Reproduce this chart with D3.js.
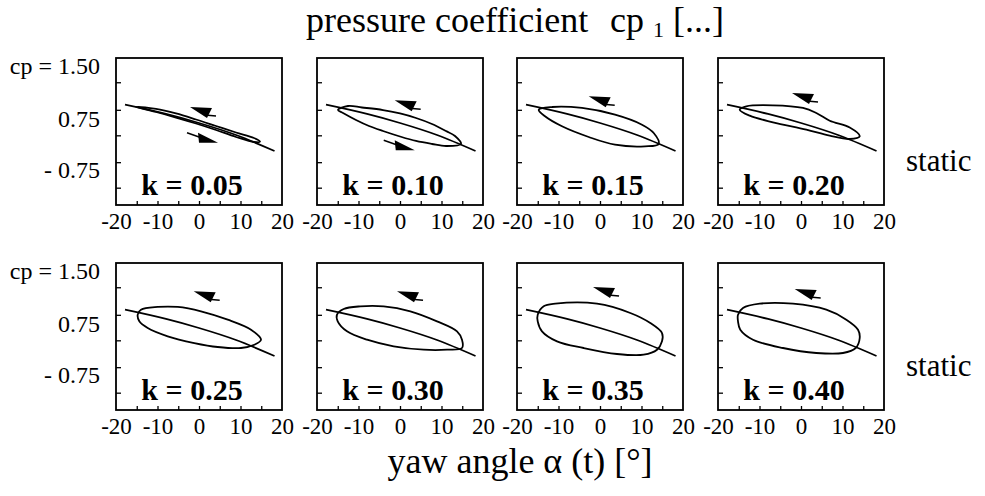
<!DOCTYPE html>
<html><head><meta charset="utf-8">
<script src="https://cdn.jsdelivr.net/npm/d3@7"></script>
<style>body{margin:0;background:#fff}svg{display:block}</style>
</head><body>
<svg id="chart" width="985" height="496"></svg>
<script>
// ---------- data ----------
const kLabels = ["k = 0.05","k = 0.10","k = 0.15","k = 0.20","k = 0.25","k = 0.30","k = 0.35","k = 0.40"];
const xTickValues = [-20,-10,0,10,20];
const xMinorTicks = [-15,-10,-5,0,5,10,15];
const yTickValues = [1.5,0.75,-0.75];
const yTickLabels = ["cp = 1.50","0.75","- 0.75"];
const yMinorTicks = [1.27,0.88,0.27,-0.52,-1.27];
const rowLabel = "static";
const titleParts = ["pressure coefficient","cp","1","[...]"];
const xTitle = "yaw angle \u03B1 (t) [\u00B0]";

// static characteristic (yaw angle deg, cp)
const staticCurve = [[-17.83,0.952],[-7.95,0.821],[0,0.632],[8.92,0.279],[18.2,-0.191]];

// hysteresis loops (closed, upper branch left->right then lower branch back)
const loop005 = [[-15.18,0.920],[-10.36,0.892],[-5.54,0.828],[-0.72,0.735],[4.10,0.544],[8.92,0.353],[13.25,0.191],[14.70,0.088],[13.25,0.074],[8.92,0.221],[4.10,0.426],[-0.72,0.618],[-5.54,0.771],[-10.36,0.849]];
const loop010 = [[-14.94,0.877],[-12.53,0.934],[-9.16,0.913],[-4.10,0.877],[0,0.828],[3.86,0.764],[7.71,0.603],[11.08,0.397],[13.25,0.250],[14.70,0.015],[11.08,-0.044],[7.71,0.015],[3.86,0.103],[0,0.235],[-4.10,0.397],[-7.47,0.544],[-10.60,0.721],[-13.73,0.835]];
const loop015 = [[-14.77,0.882],[-11.57,0.920],[-4.34,0.906],[3.62,0.811],[10.12,0.582],[12.94,0.338],[14.15,0.015],[10.84,-0.053],[3.62,-0.006],[-2.72,0.221],[-9.16,0.535],[-13.25,0.788]];
const loop020 = [[-14.77,0.882],[-13.18,0.930],[-6.75,0.944],[0.48,0.906],[3.69,0.835],[6.92,0.700],[11.74,0.500],[14.15,0.241],[11.74,0.162],[6.92,0.259],[1.28,0.435],[-6.75,0.653],[-12.36,0.797]];
const loop025 = [[-14.77,0.882],[-13.98,0.952],[-9.95,0.991],[-5.13,0.991],[0.48,0.930],[6.92,0.811],[12.53,0.582],[14.94,0.288],[13.33,0.141],[10.12,0.044],[4.51,0.074],[-1.13,0.191],[-7.54,0.388],[-12.36,0.632],[-14.38,0.788]];
const loop030 = [[-15.18,0.882],[-13.57,0.962],[-9.57,1.000],[-3.93,1.000],[2.49,0.930],[8.92,0.788],[13.74,0.535],[14.94,0.288],[14.94,0.044],[11.33,-0.006],[5.71,-0.006],[-1.52,0.094],[-7.95,0.288],[-12.77,0.535],[-15.01,0.788]];
const loop035 = [[-15.01,0.882],[-13.57,1.000],[-10.77,1.037],[-0.72,1.037],[7.30,0.906],[12.12,0.764],[14.94,0.485],[14.94,0.241],[13.74,-0.006],[10.53,-0.153],[4.10,-0.132],[-3.93,0.044],[-10.36,0.241],[-13.98,0.535],[-15.01,0.788]];
const loop040 = [[-15.18,0.882],[-13.98,0.976],[-9.95,1.037],[-1.93,1.037],[6.10,0.952],[10.92,0.811],[13.74,0.582],[14.15,0.338],[13.18,0.044],[10.12,-0.103],[3.69,-0.103],[-4.34,0.044],[-11.57,0.288],[-14.63,0.582],[-15.18,0.788]];
const loops = [loop005,loop010,loop015,loop020,loop025,loop030,loop035,loop040];

// arrow tips (deg, cp): decreasing-angle arrow and increasing-angle arrow
const backArrowTips = [[-2.17,0.920],[-1.28,1.015],[-2.72,1.071],[-2.17,1.118],[-1.28,1.213],[-0.72,1.213],[-1.68,1.274],[-1.52,1.245]];
const fwdArrowTips = [[4.58,0.053],[3.55,-0.171],null,null,null,null,null,null];

// ---------- layout ----------
const colLeft = [116,317,517,718];
const rowTop = [58,263];
const W = 166, H = 147;
const serif = "'Liberation Serif','Times New Roman',serif";

const svg = d3.select("#chart");
const x = d3.scaleLinear().domain([-20,20]).range([0,W]);
const y = d3.scaleLinear().domain(yTickValues).range([8,61,112]);

const lineStatic = d3.line().x(d=>x(d[0])).y(d=>y(d[1])).curve(d3.curveMonotoneX);
const lineLoop = d3.line().x(d=>x(d[0])).y(d=>y(d[1])).curve(d3.curveCatmullRomClosed.alpha(0.5));

kLabels.forEach((lab,i)=>{
  const r = Math.floor(i/4), c = i%4;
  const g = svg.append("g").attr("transform",`translate(${colLeft[c]},${rowTop[r]})`);

  // minor ticks bottom (pointing inward)
  const xm = g.append("g").attr("transform",`translate(0,${H})`)
    .call(d3.axisBottom(x).tickValues(xMinorTicks).tickSize(-4).tickFormat(""));
  xm.select(".domain").remove();
  xm.selectAll("line").attr("stroke","#000").attr("stroke-width",1.3);

  // minor ticks left (pointing inward)
  const ym = g.append("g").call(d3.axisLeft(y).tickValues(yMinorTicks).tickSize(-5).tickFormat(""));
  ym.select(".domain").remove();
  ym.selectAll("line").attr("stroke","#000").attr("stroke-width",1.3);

  // x tick labels
  const xa = g.append("g").attr("transform",`translate(0,${H})`)
    .call(d3.axisBottom(x).tickValues(xTickValues).tickSize(0).tickPadding(8).tickFormat(d=>String(d)));
  xa.select(".domain").remove();
  xa.selectAll("text").attr("font-family",serif).attr("font-size",23).attr("fill","#000");

  // y tick labels (first column only)
  if (c===0){
    const ya = g.append("g").call(d3.axisLeft(y).tickValues(yTickValues).tickSize(0).tickPadding(16)
      .tickFormat((d,j)=>yTickLabels[j]));
    ya.select(".domain").remove();
    ya.selectAll("text").attr("font-family",serif).attr("font-size",24).attr("fill","#000");
  }

  // frame
  g.append("rect").attr("x",0).attr("y",0).attr("width",W).attr("height",H)
    .attr("fill","none").attr("stroke","#000").attr("stroke-width",1.8);

  // static line
  g.append("path").datum(staticCurve).attr("d",lineStatic)
    .attr("fill","none").attr("stroke","#000").attr("stroke-width",1.8);

  // loop
  g.append("path").datum(loops[i]).attr("d",lineLoop)
    .attr("fill","none").attr("stroke","#000").attr("stroke-width",1.8).attr("stroke-linejoin","round");

  // backward arrow
  const bt = backArrowTips[i];
  if (bt){
    const px = x(bt[0]), py = y(bt[1]);
    g.append("path").attr("d",`M${px},${py}L${px+22},${py+1}L${px+17},${py+11}Z`).attr("fill","#000");
    g.append("line").attr("x1",px+15).attr("y1",py+8).attr("x2",px+26).attr("y2",py+9)
      .attr("stroke","#000").attr("stroke-width",1.5);
  }
  const ft = fwdArrowTips[i];
  if (ft){
    const px = x(ft[0]), py = y(ft[1]);
    g.append("path").attr("d",`M${px},${py}L${px-20},${py-10}L${px-19},${py}Z`).attr("fill","#000");
    g.append("line").attr("x1",px-31).attr("y1",py-10).attr("x2",px-14).attr("y2",py-4)
      .attr("stroke","#000").attr("stroke-width",1.5);
  }

  // k label
  g.append("text").attr("x",76).attr("y",137).attr("text-anchor","middle")
    .attr("font-family",serif).attr("font-weight","bold").attr("font-size",30).text(lab);
});

// row labels
rowTop.forEach((t,r)=>{
  svg.append("text").attr("x",906).attr("y",t+113).attr("font-family",serif).attr("font-size",31).text(rowLabel);
});

// title (pieces)
const titleX = [306,610,653,673];
const titleSize = [36,36,22,36];
const titleDy = [0,0,5,0];
titleParts.forEach((p,j)=>{
  svg.append("text").attr("x",titleX[j]).attr("y",32+titleDy[j])
    .attr("font-family",serif).attr("font-size",titleSize[j]).text(p);
});

// x axis title
svg.append("text").attr("x",520).attr("y",473).attr("text-anchor","middle")
  .attr("font-family",serif).attr("font-size",36).text(xTitle);
</script>
</body></html>
